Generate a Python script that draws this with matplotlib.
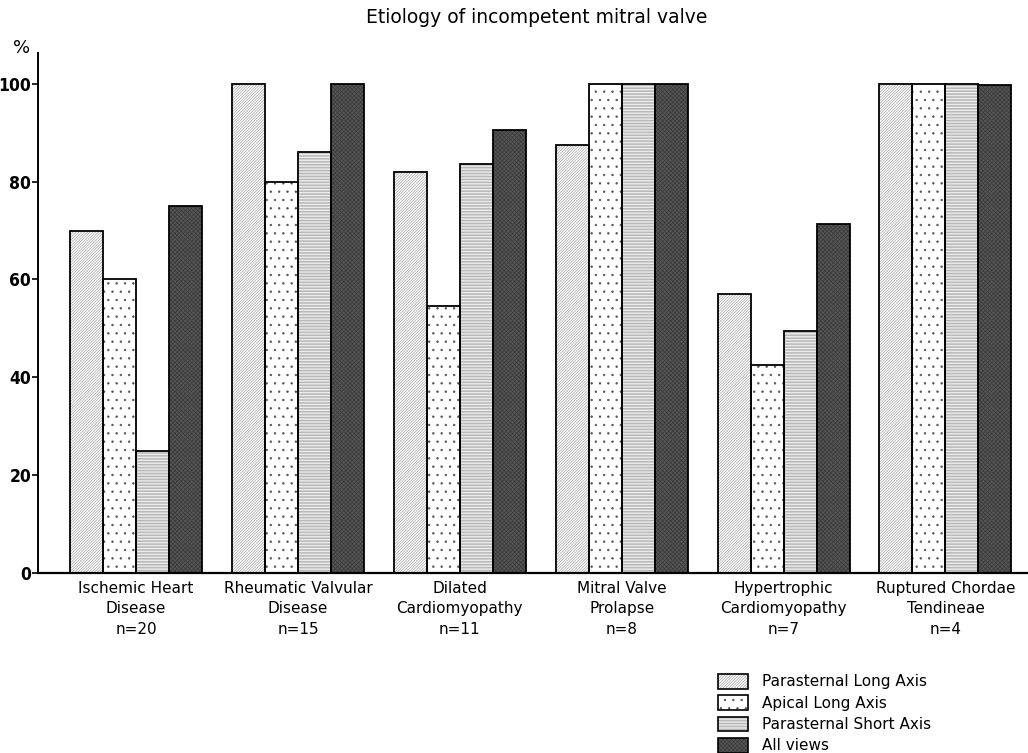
import matplotlib
matplotlib.use("Agg")
import matplotlib.pyplot as plt
import numpy as np
from matplotlib.patches import Patch
from matplotlib.legend_handler import HandlerTuple

plt.rcParams['font.family'] = ['DejaVu Sans']

title = "Etiology of incompetent mitral valve"
categories = ["Ischemic Heart\nDisease\nn=20",
              "Rheumatic Valvular\nDisease\nn=15",
              "Dilated\nCardiomyopathy\nn=11",
              "Mitral Valve\nProlapse\nn=8",
              "Hypertrophic\nCardiomyopathy\nn=7",
              "Ruptured Chordae\nTendineae\nn=4"]
series_names = ["Parasternal Long Axis", "Apical Long Axis",
                "Parasternal Short Axis", "All views"]
parasternal_long = [70, 100, 82, 87.5, 57, 100]
apical_long = [60, 80, 54.5, 100, 42.5, 100]
parasternal_short = [25, 86, 83.5, 100, 49.5, 100]
all_views = [75, 100, 90.5, 100, 71.4, 99.8]
yticks = [0, 20, 40, 60, 80, 100]

series = [parasternal_long, apical_long, parasternal_short, all_views]
styles = [
    dict(facecolor='white', hatch='/' * 12, hatchcolor='#a8a8a8'),
    dict(facecolor='white', hatch='..', hatchcolor='#555555'),
    dict(facecolor='white', hatch='-' * 11, hatchcolor='#9a9a9a'),
    dict(facecolor='#555555', hatch='x' * 8, hatchcolor='#3a3a3a'),
]

plt.rcParams['hatch.linewidth'] = 0.5

fig = plt.figure(figsize=(10.28, 7.53), dpi=100)
ax = fig.add_axes([0.037, 0.239, 0.963, 0.6907])

x = np.arange(len(categories))
w = 0.204
offsets = (np.arange(4) - 1.5) * w
for vals, st, off in zip(series, styles, offsets):
    ax.bar(x + off, vals, w, color=st['facecolor'], hatch=st['hatch'],
           edgecolor=st['hatchcolor'], linewidth=0, zorder=2)
    ax.bar(x + off, vals, w, fill=False, edgecolor='black', linewidth=1.3, zorder=3)

ax.set_xlim(-0.606, 5.51)
ax.set_ylim(0, 106.3)
ax.set_yticks(yticks)
ax.set_yticklabels([str(t) for t in yticks], fontsize=12.5, fontweight='bold',
                   fontstretch='condensed')
ax.tick_params(axis='y', direction='out', length=4, width=1.2, pad=1)
ax.set_xticks([])
for s in ['top', 'right']:
    ax.spines[s].set_visible(False)
ax.spines['left'].set_linewidth(1.4)
ax.spines['bottom'].set_linewidth(1.6)

for xi, lab in zip(x, categories):
    ax.text(xi, -1.6, lab, ha='center', va='top', fontsize=11,
            linespacing=1.45, transform=ax.transData)

fig.text(0.021, 0.936, "%", fontsize=13, ha='center', va='center')
fig.text(0.522, 0.977, title, fontsize=13.5, ha='center', va='center')

handles = []
for st in styles:
    h1 = Patch(facecolor=st['facecolor'], hatch=st['hatch'], edgecolor=st['hatchcolor'], linewidth=0)
    h2 = Patch(fill=False, edgecolor='black', linewidth=1.2)
    handles.append((h1, h2))
leg = fig.legend(handles, series_names, handler_map={tuple: HandlerTuple(ndivide=1, pad=0)},
                 loc='upper left', bbox_to_anchor=(0.698, 0.105), frameon=False,
                 fontsize=11, handlelength=2.0, handleheight=1.1, labelspacing=0.38,
                 handletextpad=0.9, borderaxespad=0, borderpad=0)

fig.savefig("out.png", dpi=100)
